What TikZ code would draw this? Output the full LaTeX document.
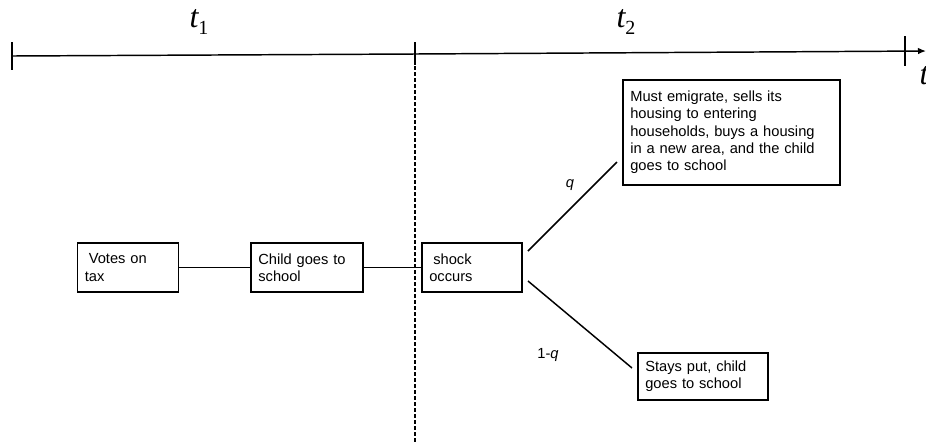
\documentclass[tikz,border=0pt]{standalone}
\usepackage{fontspec}
\newfontfamily\arialfont{Liberation Sans}
\newfontfamily\timesfont{Liberation Serif}
\usetikzlibrary{arrows.meta}

\newcommand{\period}[1]{{\itshape t}\raisebox{-5pt}{\fontsize{15}{15}\selectfont #1}}

\begin{document}
\begin{tikzpicture}[x=0.75pt,y=-0.75pt]

\tikzset{box/.style = {shape=rectangle,draw,line width=1.2pt,align=left,inner xsep=5.5pt,inner ysep=2pt,font=\arialfont\fontsize{11}{13}\selectfont}}
\tikzset{edge/.style = {line width=1.1pt}}
\tikzset{tick/.style = {line width=2.2pt}}
\tikzset{period/.style = {font=\timesfont\fontsize{24}{24}\selectfont}}
\tikzset{prob/.style = {font=\arialfont\fontsize{11}{13}\selectfont}}

\useasboundingbox (0,0) rectangle (926,444);

% time axis
\coordinate (t0) at (12,56);
\coordinate (t1) at (415,54);
\coordinate (t2) at (905,51);
\coordinate (tend) at (926,51);
\coordinate (tb) at (415,444);

\draw[edge,-{Latex[length=6pt,width=5pt]}] (t0) -- (t1) -- (tend);
\draw[tick] (t0) ++(0,-14) -- ++(0,28);
\draw[tick] (t1) ++(0,-12) -- ++(0,23);
\draw[tick] (t2) ++(0,-15) -- ++(0,30);
\draw[edge,dash pattern=on 3pt off 1.5pt] (t1) -- (tb);

\node[period] (p1) at (199,22) {\period{1}};
\node[period] (p2) at (626,22) {\period{2}};
\node[period] (tt) at (924,76) {\itshape t};

% events
\node[box,text width=64.75pt,minimum height=36.75pt] (vote) at (128,267.5) {\hspace{3pt}Votes on\\tax};
\node[box,text width=73pt,minimum height=36.75pt] (child) at (307,267.5) {Child goes to\\school};
\node[box,text width=64pt,minimum height=36.75pt] (shock) at (472,267.5) {\hspace{3pt}shock\\occurs};
\node[box,text width=151.75pt,minimum height=78.75pt] (move) at (731.5,132.5) {Must emigrate, sells its\\housing to entering\\households, buys a housing\\in a new area, and the child\\goes to school};
\node[box,text width=86.5pt,minimum height=35.25pt] (stay) at (703,376.5) {Stays put, child\\goes to school};

\draw[edge] (vote) -- (child);
\draw[edge] (child) -- (shock);

% branches
\coordinate (qa) at (528,251);
\coordinate (qb) at (617,162);
\coordinate (ra) at (528,281);
\coordinate (rb) at (632,368);
\draw[edge] (qa) -- (qb);
\draw[edge] (ra) -- (rb);

\node[prob] (q) at (570,185) {\textit{q}};
\node[prob] (nq) at (548,355) {1-\textit{q}};

\end{tikzpicture}
\end{document}
